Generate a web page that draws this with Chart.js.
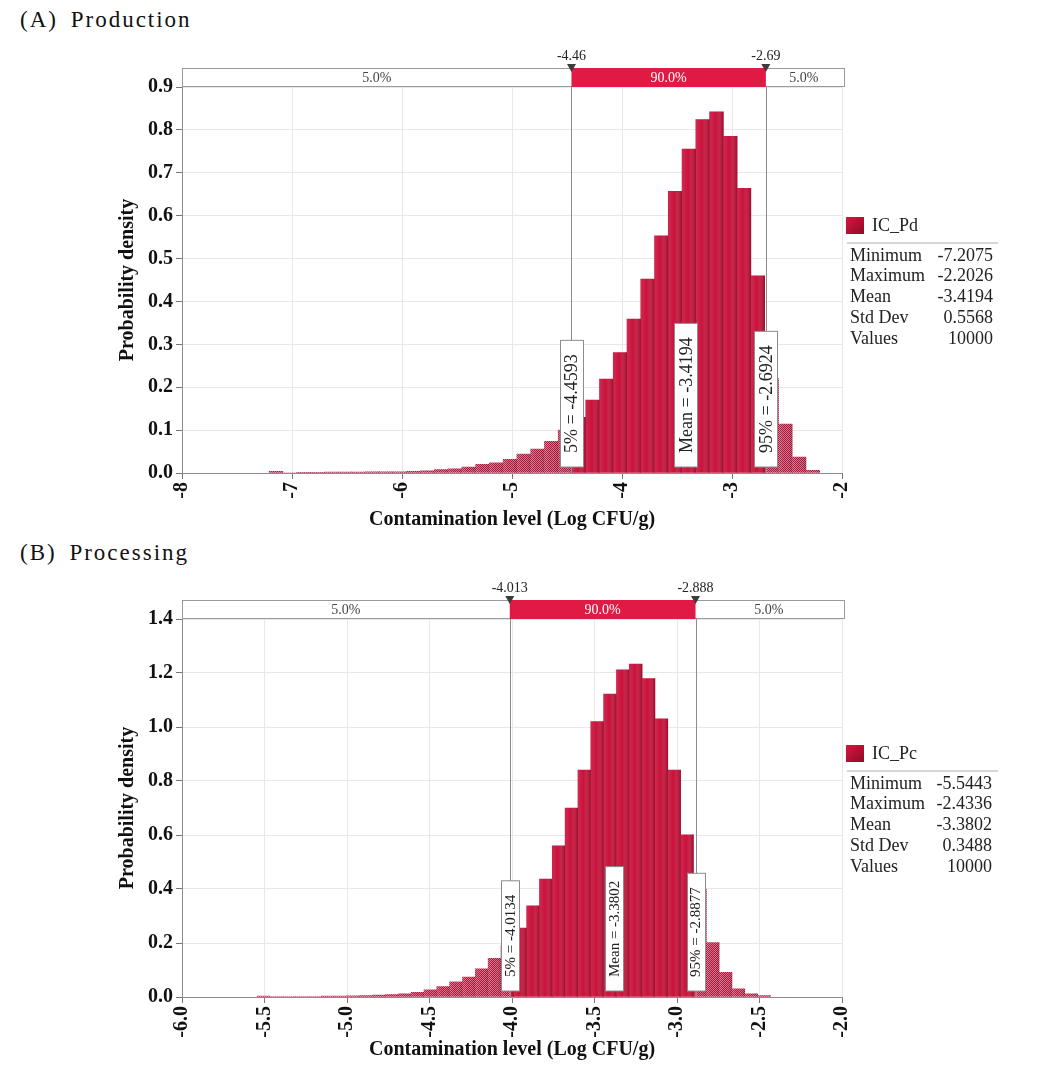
<!DOCTYPE html>
<html>
<head>
<meta charset="utf-8">
<script src="https://cdn.jsdelivr.net/npm/chart.js@4/dist/chart.umd.min.js"></script>
<style>
  body { margin: 0; background: #fff; width: 1041px; height: 1071px; position: relative; overflow: hidden;
         font-family: "Liberation Serif", "Times New Roman", serif; color: #111; }
  canvas { position: absolute; left: 0; }
  .heading { position: absolute; left: 20px; font-size: 23px; line-height: 26px; letter-spacing: 2px;
             word-spacing: 5px; white-space: pre; }
  .st { position: absolute; font-size: 18px; line-height: 20px; color: #222; white-space: pre; }
  .sw { position: absolute; width: 18px; height: 17px; background: linear-gradient(135deg, #d8173f, #8e0a27); }
  .sep { position: absolute; height: 2px; background: #d6d6d6; }
</style>
</head>
<body>
<div class="heading" style="top:7px">(A) Production</div>
<div class="heading" style="top:540px">(B) Processing</div>
<canvas id="chartA" width="1041" height="535" style="top:0"></canvas>
<canvas id="chartB" width="1041" height="536" style="top:535px"></canvas>
<div id="stats"></div>
<script>
const binCount = 40;
const statNames = ['Minimum', 'Maximum', 'Mean', 'Std Dev', 'Values'];

// (A) Production: probability density of each of the 40 bins between min and max
const prodName = 'IC_Pd';
const prodMin = -7.2075;
const prodMax = -2.2026;
const prodHeights = [
  0.004, 0.000, 0.001, 0.001, 0.002, 0.002, 0.002, 0.003, 0.003, 0.003,
  0.004, 0.005, 0.008, 0.010, 0.014, 0.020, 0.024, 0.032, 0.044, 0.056,
  0.074, 0.100, 0.130, 0.170, 0.219, 0.281, 0.359, 0.452, 0.553, 0.657,
  0.755, 0.824, 0.842, 0.785, 0.664, 0.460, 0.220, 0.114, 0.037, 0.006
];
const prodXTicks = [-8, -7, -6, -5, -4, -3, -2];
const prodYTicks = [0.0, 0.1, 0.2, 0.3, 0.4, 0.5, 0.6, 0.7, 0.8, 0.9];
const prodMarks = [-4.4593, -3.4194, -2.6924];     // 5%, mean, 95%
const prodMarkLabels = ['-4.46', '-2.69'];
const prodStats = ['-7.2075', '-2.2026', '-3.4194', '0.5568', '10000'];

// (B) Processing
const procName = 'IC_Pc';
const procMin = -5.5443;
const procMax = -2.4336;
const procHeights = [
  0.003, 0.002, 0.002, 0.002, 0.002, 0.003, 0.003, 0.004, 0.005, 0.007,
  0.009, 0.012, 0.017, 0.027, 0.039, 0.056, 0.074, 0.104, 0.143, 0.190,
  0.255, 0.338, 0.437, 0.560, 0.700, 0.840, 1.020, 1.122, 1.212, 1.233,
  1.179, 1.030, 0.840, 0.601, 0.400, 0.202, 0.091, 0.030, 0.012, 0.005
];
const procXTicks = [-6.0, -5.5, -5.0, -4.5, -4.0, -3.5, -3.0, -2.5, -2.0];
const procYTicks = [0.0, 0.2, 0.4, 0.6, 0.8, 1.0, 1.2, 1.4];
const procMarks = [-4.0134, -3.3802, -2.8877];
const procMarkLabels = ['-4.013', '-2.888'];
const procStats = ['-5.5443', '-2.4336', '-3.3802', '0.3488', '10000'];

const serif = '"Liberation Serif", "Times New Roman", serif';

function hatch(ctx) {
  const p = document.createElement('canvas');
  p.width = 2; p.height = 2;
  const c = p.getContext('2d');
  c.fillStyle = '#dc6f89';
  c.fillRect(0, 0, 2, 2);
  c.fillStyle = '#a3163a';
  c.fillRect(0, 0, 1, 1);
  c.fillRect(1, 1, 1, 1);
  return ctx.createPattern(p, 'repeat');
}

function buildChart(id, o) {
  const ctx = document.getElementById(id).getContext('2d');
  const w = (o.max - o.min) / binCount;
  const pts = o.heights.map((h, i) => ({ x: o.min + (i + 0.5) * w, y: h }));
  const [p5, mean, p95] = o.marks;

  const overlay = {
    id: 'overlay',
    beforeDatasetDraw(chart, args) {
      // solid bars only between the 5% and 95% lines, hatched ones outside
      const c = chart.ctx, x = chart.scales.x;
      const x5 = x.getPixelForValue(p5), x95 = x.getPixelForValue(p95);
      c.save();
      c.beginPath();
      if (args.index === 0) {
        c.rect(x5, 0, x95 - x5, chart.height);
      } else {
        c.rect(0, 0, x5, chart.height);
        c.rect(x95, 0, chart.width - x95, chart.height);
      }
      c.clip();
    },
    afterDatasetDraw(chart, args) {
      const c = chart.ctx;
      args.meta.data.forEach(bar => {
        if (bar.base - bar.y < 0.5) return;
        const left = bar.x - bar.width / 2;
        const g = c.createLinearGradient(left, 0, left + bar.width, 0);
        g.addColorStop(0, 'rgba(255,255,255,0.10)');
        g.addColorStop(0.45, 'rgba(255,255,255,0)');
        g.addColorStop(1, args.index === 0 ? 'rgba(60,0,10,0.35)' : 'rgba(60,0,10,0.15)');
        c.fillStyle = g;
        c.fillRect(left, bar.y, bar.width, bar.base - bar.y);
      });
      c.restore();
    },
    afterDatasetsDraw(chart) {
      const c = chart.ctx, a = chart.chartArea, x = chart.scales.x;
      c.save();
      c.strokeStyle = '#8c8c8c';
      c.lineWidth = 1;
      [p5, p95].forEach(v => {
        const px = Math.round(x.getPixelForValue(v)) + 0.5;
        c.beginPath();
        c.moveTo(px, a.top - 1);
        c.lineTo(px, a.bottom);
        c.stroke();
      });
      const texts = ['5% = ' + p5.toFixed(4), 'Mean = ' + mean.toFixed(4), '95% = ' + p95.toFixed(4)];
      c.font = o.boxFont + 'px ' + serif;
      o.marks.forEach((v, i) => {
        const px = x.getPixelForValue(v);
        const tw = c.measureText(texts[i]).width;
        const h = tw + 28, bottom = a.bottom - 6;
        const l = Math.round(px - o.boxW / 2) + 0.5;
        c.fillStyle = '#fff';
        c.fillRect(l, bottom - h, o.boxW, h);
        c.strokeStyle = '#8c8c8c';
        c.strokeRect(l, bottom - h, o.boxW, h);
        c.save();
        c.translate(px, bottom - h / 2);
        c.rotate(-Math.PI / 2);
        c.fillStyle = '#222';
        c.textAlign = 'center';
        c.textBaseline = 'middle';
        c.fillText(texts[i], 0, 1);
        c.restore();
      });
      c.restore();
    },
    afterDraw(chart) {
      // percentile band above the plot
      const c = chart.ctx, a = chart.chartArea, x = chart.scales.x;
      const x5 = x.getPixelForValue(p5), x95 = x.getPixelForValue(p95);
      const t = a.top - 19, bh = 18;
      c.save();
      c.fillStyle = '#fff';
      c.fillRect(a.left, t, a.right - a.left + 2, bh);
      c.strokeStyle = '#9a9a9a';
      c.strokeRect(a.left + 0.5, t + 0.5, a.right - a.left + 2, bh);
      c.fillStyle = '#e01a44';
      c.fillRect(x5, t, x95 - x5, bh + 1);
      c.font = '14px ' + serif;
      c.textAlign = 'center';
      c.textBaseline = 'middle';
      c.fillStyle = '#444';
      c.fillText('5.0%', (a.left + x5) / 2, t + bh / 2 + 1);
      c.fillText('5.0%', (x95 + a.right) / 2, t + bh / 2 + 1);
      c.fillStyle = '#fff';
      c.fillText('90.0%', (x5 + x95) / 2, t + bh / 2 + 1);
      [x5, x95].forEach((px, i) => {
        c.fillStyle = '#3c3c3c';
        c.beginPath();
        c.moveTo(px - 4.5, t - 4);
        c.lineTo(px + 4.5, t - 4);
        c.lineTo(px, t + 4);
        c.closePath();
        c.fill();
        c.fillStyle = '#222';
        c.fillText(o.markLabels[i], px, t - 12);
      });
      c.restore();
    }
  };

  const tickFont = { family: serif, weight: 'bold', size: 20 };
  const titleFont = { family: serif, weight: 'bold', size: 20 };
  const bars = { data: pts, grouped: false, barPercentage: 1, categoryPercentage: 1, borderWidth: 0 };

  return new Chart(ctx, {
    type: 'bar',
    data: {
      datasets: [
        Object.assign({}, bars, { backgroundColor: '#c9123b' }),
        Object.assign({}, bars, { backgroundColor: hatch(ctx) })
      ]
    },
    options: {
      responsive: false,
      animation: false,
      devicePixelRatio: 1,
      layout: { padding: { left: 116, right: 199, top: o.padTop, bottom: 0 } },
      plugins: { legend: { display: false }, tooltip: { enabled: false } },
      scales: {
        x: {
          type: 'linear',
          min: o.xTicks[0],
          max: o.xTicks[o.xTicks.length - 1],
          offset: false,
          afterBuildTicks: s => { s.ticks = o.xTicks.map(v => ({ value: v })); },
          afterFit: s => { s.height = o.xAxisH; },
          grid: { color: '#e8e8e8', tickColor: '#777', tickLength: 6, offset: false },
          border: { color: '#8c8c8c' },
          ticks: { font: tickFont, color: '#111', minRotation: 90, maxRotation: 90, autoSkip: false,
                   callback: v => v.toFixed(o.xDigits) },
          title: { display: true, text: 'Contamination level (Log CFU/g)', font: titleFont, color: '#111',
                   padding: { top: 0, bottom: o.titlePad } }
        },
        y: {
          min: 0,
          max: o.yTicks[o.yTicks.length - 1],
          afterBuildTicks: s => { s.ticks = o.yTicks.map(v => ({ value: v })); },
          afterFit: s => { s.width = 66; },
          grid: { color: '#e8e8e8', tickColor: '#777', tickLength: 6 },
          border: { color: '#8c8c8c' },
          ticks: { font: tickFont, color: '#111', autoSkip: false, callback: v => v.toFixed(1) },
          title: { display: true, text: 'Probability density', font: titleFont, color: '#111',
                   padding: { top: 0, bottom: 0 } }
        }
      }
    },
    plugins: [overlay]
  });
}

function buildStats(top, name, values, valueRight) {
  const root = document.getElementById('stats');
  const add = (cls, style, text) => {
    const d = document.createElement('div');
    d.className = cls;
    d.style.cssText = style;
    if (text) d.textContent = text;
    root.appendChild(d);
  };
  add('sw', 'left:846px;top:' + top + 'px');
  add('st', 'left:872px;top:' + (top - 2) + 'px;', name);
  add('sep', 'left:847px;width:151px;top:' + (top + 25) + 'px');
  statNames.forEach((n, i) => {
    const cy = top + 37.5 + i * 20.8;
    add('st', 'left:850px;top:' + (cy - 10) + 'px', n);
    add('st', 'right:' + (1041 - valueRight) + 'px;top:' + (cy - 10) + 'px', values[i]);
  });
}

buildChart('chartA', {
  min: prodMin, max: prodMax, heights: prodHeights, xTicks: prodXTicks, yTicks: prodYTicks,
  marks: prodMarks, markLabels: prodMarkLabels, xDigits: 0,
  padTop: 87, xAxisH: 62, titlePad: 3, boxFont: 18, boxW: 23
});
buildChart('chartB', {
  min: procMin, max: procMax, heights: procHeights, xTicks: procXTicks, yTicks: procYTicks,
  marks: procMarks, markLabels: procMarkLabels, xDigits: 1,
  padTop: 84, xAxisH: 74, titlePad: 9, boxFont: 15, boxW: 18
});
buildStats(217, prodName, prodStats, 993);
buildStats(745, procName, procStats, 992);
</script>
</body>
</html>
